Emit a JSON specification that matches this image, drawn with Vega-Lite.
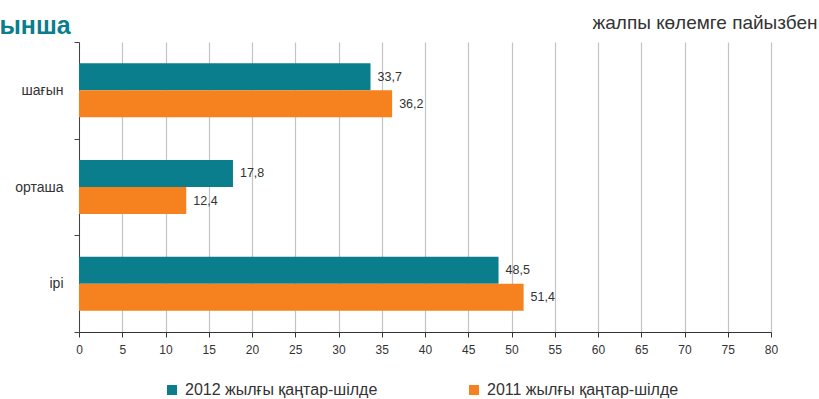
{
  "$schema": "https://vega.github.io/schema/vega-lite/v6.json",
  "width": 692,
  "height": 290,
  "autosize": {"type": "none"},
  "padding": {"left": 79, "top": 42, "right": 48, "bottom": 67},
  "background": "white",
  "config": {
    "font": "Liberation Sans",
    "view": {"stroke": null},
    "locale": {"number": {"decimal": ",", "thousands": " ", "grouping": [3], "currency": ["", ""]}}
  },
  "data": {
    "values": [
      {"size": "шағын", "period": "2012 жылғы қаңтар-шілде", "value": 33.7},
      {"size": "шағын", "period": "2011 жылғы қаңтар-шілде", "value": 36.2},
      {"size": "орташа", "period": "2012 жылғы қаңтар-шілде", "value": 17.8},
      {"size": "орташа", "period": "2011 жылғы қаңтар-шілде", "value": 12.4},
      {"size": "ірі", "period": "2012 жылғы қаңтар-шілде", "value": 48.5},
      {"size": "ірі", "period": "2011 жылғы қаңтар-шілде", "value": 51.4}
    ]
  },
  "encoding": {
    "y": {
      "field": "size", "type": "nominal", "sort": ["шағын", "орташа", "ірі"],
      "scale": {"paddingInner": 0, "paddingOuter": 0},
      "axis": {
        "title": "ынша", "titleAngle": 0, "titleX": -80, "titleY": -9,
        "titleAlign": "left", "titleBaseline": "alphabetic",
        "titleFontSize": 25, "titleFontWeight": "bold", "titleColor": "#0a7e8c",
        "tickBand": "extent", "domainColor": "#444", "tickColor": "#444", "tickSize": 5,
        "labelPadding": 11, "labelFontSize": 14, "labelColor": "#333", "grid": false
      }
    },
    "yOffset": {
      "field": "period", "type": "nominal", "sort": ["2012 жылғы қаңтар-шілде", "2011 жылғы қаңтар-шілде"],
      "scale": {"paddingInner": 0, "paddingOuter": 0.79}
    },
    "x": {
      "field": "value", "type": "quantitative",
      "scale": {"domain": [0, 80], "nice": false},
      "axis": {
        "title": null, "values": [0,5,10,15,20,25,30,35,40,45,50,55,60,65,70,75,80],
        "grid": true, "gridColor": "#c4c4c4", "gridWidth": 1.2, "labelFlush": false,
        "domainColor": "#333", "tickColor": "#333", "tickSize": 5,
        "labelPadding": 7, "labelFontSize": 12, "labelColor": "#333"
      }
    }
  },
  "layer": [
    {
      "mark": {"type": "bar"},
      "encoding": {
        "color": {
          "field": "period", "type": "nominal",
          "scale": {"domain": ["2012 жылғы қаңтар-шілде", "2011 жылғы қаңтар-шілде"], "range": ["#0a7e8c", "#f5821f"]},
          "legend": {
            "title": null, "orient": "none", "legendX": 85, "legendY": 340, "direction": "horizontal",
            "symbolType": "square", "symbolSize": 100, "symbolStrokeWidth": 0, "labelLimit": 0,
            "labelFontSize": 16, "labelColor": "#333", "columnPadding": 88, "labelOffset": 5
          }
        }
      }
    },
    {
      "mark": {"type": "text", "align": "left", "baseline": "middle", "dx": 7, "fontSize": 12.5, "color": "#333"},
      "encoding": {
        "text": {"field": "value", "type": "quantitative", "format": ".1f"},
        "x": {
          "field": "value", "type": "quantitative",
          "axis": {
            "orient": "top", "labels": false, "ticks": false, "domain": false, "grid": false,
            "title": "жалпы көлемге пайызбен", "titleX": 738, "titleY": -14,
            "titleAlign": "right", "titleBaseline": "alphabetic", "titleAnchor": null,
            "titleFontSize": 19, "titleFontWeight": "normal", "titleColor": "#333"
          }
        }
      }
    }
  ],
  "resolve": {"axis": {"x": "independent"}}
}
